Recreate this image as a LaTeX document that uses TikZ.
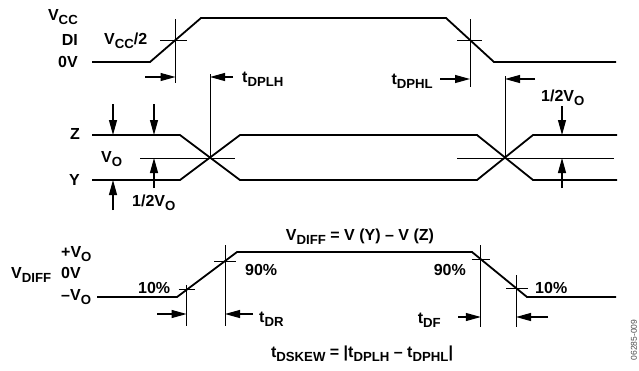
\documentclass[tikz,border=0pt]{standalone}
\usepackage{fontspec}
\setmainfont{Liberation Sans}
\usetikzlibrary{arrows.meta,calc}
\newcommand{\sbs}[1]{\raisebox{-3.8pt}{\fontsize{13.2}{13}\selectfont #1}}
\begin{document}
\begin{tikzpicture}[x=1pt,y=-1pt,
  sig/.style={line width=1.8pt},
  thinl/.style={line width=0.8pt},
  dim/.style={line width=1.1pt,-{Triangle[length=15pt,width=8pt]}},
  lbl/.style={font=\fontsize{16}{17}\selectfont\bfseries, inner sep=0pt},
  tag/.style={font=\fontsize{8.5}{9}\selectfont, text=black!70, inner sep=0pt}]
\useasboundingbox (0,0) rectangle (639,370);
% ---------- DI ----------
\coordinate (d0) at (92,62);  \coordinate (d1) at (150,62);
\coordinate (d2) at (201,18); \coordinate (d3) at (446,18);
\coordinate (d4) at (494,62); \coordinate (d5) at (616,62);
\draw[sig] (d0) -- (d1) -- (d2) -- (d3) -- (d4) -- (d5);
\coordinate (dr) at ($(d1)!0.5!(d2)$);
\coordinate (df) at ($(d3)!0.5!(d4)$);
\draw[thinl] (dr |- 0,19) -- (dr |- 0,83);
\draw[thinl] (160,40) -- (187,40);
\draw[thinl] (df |- 0,19) -- (df |- 0,87);
\draw[thinl] (457,40) -- (482,40);
\node[lbl,anchor=east] (lvcc) at (78,17) {V\sbs{CC}};
\node[lbl,anchor=east] (ldi) at (78,40) {DI};
\node[lbl,anchor=east] (l0v) at (78,62) {0V};
\node[lbl,anchor=west] (lvcc2) at (104,41) {V\sbs{CC}/2};
% ---------- Z / Y ----------
\coordinate (z0) at (92,135);  \coordinate (z1) at (180,135);
\coordinate (z2) at (240,180); \coordinate (z3) at (477,180);
\coordinate (z4) at (533,135); \coordinate (z5) at (617,135);
\coordinate (y0) at (92,180);  \coordinate (y1) at (180,180);
\coordinate (y2) at (240,135); \coordinate (y3) at (477,135);
\coordinate (y4) at (533,180); \coordinate (y5) at (617,180);
\draw[sig] (z0) -- (z1) -- (z2) -- (z3) -- (z4) -- (z5);
\draw[sig] (y0) -- (y1) -- (y2) -- (y3) -- (y4) -- (y5);
\coordinate (xl) at ($(z1)!0.5!(z2)$);
\coordinate (xr) at ($(z3)!0.5!(z4)$);
\draw[thinl] (140,158) -- (235,158);
\draw[thinl] (457,158) -- (614,158);
\draw[thinl] (xl) -- (xl |- 0,74);
\draw[thinl] (xr) -- (xr |- 0,76);
\node[lbl,anchor=east] (lz) at (80,134) {Z};
\node[lbl,anchor=east] (ly) at (80,180) {Y};
\node[lbl,anchor=west] (lvo) at (101,159) {V\sbs{O}};
\node[lbl,anchor=west] (lhalf) at (132,203) {1/2V\sbs{O}};
\node[lbl,anchor=west] (lhalfr) at (541,98) {1/2V\sbs{O}};
% timing arrows top
\draw[dim] (145,77) -- (dr |- 0,77);
\draw[dim] (233,77) -- (xl |- 0,77);
\node[lbl,anchor=west] (ltplh) at (242,79) {t\sbs{DPLH}};
\draw[dim] (440,79) -- (df |- 0,79);
\node[lbl,anchor=east] (ltphl) at (433,81) {t\sbs{DPHL}};
\draw[dim] (535,79) -- (xr |- 0,79);
% amplitude arrows
\draw[dim] (113,104) -- (z0 -| 113,0);
\draw[dim] (154,104) -- (z0 -| 154,0);
\draw[dim] (154,188) -- (154,158);
\draw[dim] (113,210) -- (y0 -| 113,0);
\draw[dim] (562,106) -- (z5 -| 562,0);
\draw[dim] (562,188) -- (562,158);
% ---------- VDIFF ----------
\coordinate (v0) at (97,297);  \coordinate (v1) at (177,297);
\coordinate (v2) at (237,252); \coordinate (v3) at (472,252);
\coordinate (v4) at (527,297); \coordinate (v5) at (616,297);
\draw[sig] (v0) -- (v1) -- (v2) -- (v3) -- (v4) -- (v5);
\coordinate (r10) at ($(v1)!0.16!(v2)$);
\coordinate (r90) at ($(v1)!0.8!(v2)$);
\coordinate (f90) at ($(v3)!0.16!(v4)$);
\coordinate (f10) at ($(v3)!0.8!(v4)$);
\draw[thinl] (r10) ++(0,-5) -- (r10 |- 0,326);
\draw[thinl] (r10) ++(-8,0) -- ++(16,0);
\draw[thinl] (r90) ++(0,-16) -- (r90 |- 0,326);
\draw[thinl] (r90) ++(-11,0) -- ++(22,0);
\draw[thinl] (f90) ++(0,-14) -- (f90 |- 0,327);
\draw[thinl] (f90) ++(-9,0) -- ++(18,0);
\draw[thinl] (f10) ++(0,-13) -- (f10 |- 0,327);
\draw[thinl] (f10) ++(-10,0) -- ++(22,0);
\node[lbl,anchor=west] (lvd) at (11,275) {V\sbs{DIFF}};
\node[lbl,anchor=west] (lpvo) at (61,254) {+V\sbs{O}};
\node[lbl,anchor=west] (l0vb) at (61,273) {0V};
\node[lbl,anchor=west] (lmvo) at (61,297) {–V\sbs{O}};
\node[lbl,anchor=west] (l10a) at (138,288) {10\%};
\node[lbl,anchor=west] (l90a) at (245,270) {90\%};
\node[lbl,anchor=east] (l90b) at (466,270) {90\%};
\node[lbl,anchor=west] (l10b) at (535,288) {10\%};
\node[lbl] (leq) at (360,237) {V\sbs{DIFF} = V (Y) – V (Z)};
\draw[dim] (157,314) -- (r10 |- 0,314);
\draw[dim] (253,314) -- (r90 |- 0,314);
\node[lbl,anchor=west] (ltdr) at (259,319) {t\sbs{DR}};
\draw[dim] (458,317) -- (f90 |- 0,317);
\node[lbl,anchor=east] (ltdf) at (441,320) {t\sbs{DF}};
\draw[dim] (548,317) -- (f10 |- 0,317);
\node[lbl] (lskew) at (362,354) {t\sbs{DSKEW} = |t\sbs{DPLH} – t\sbs{DPHL}|};
\node[tag,rotate=90] (ltag) at (634,340) {06285-009};
\end{tikzpicture}
\end{document}
